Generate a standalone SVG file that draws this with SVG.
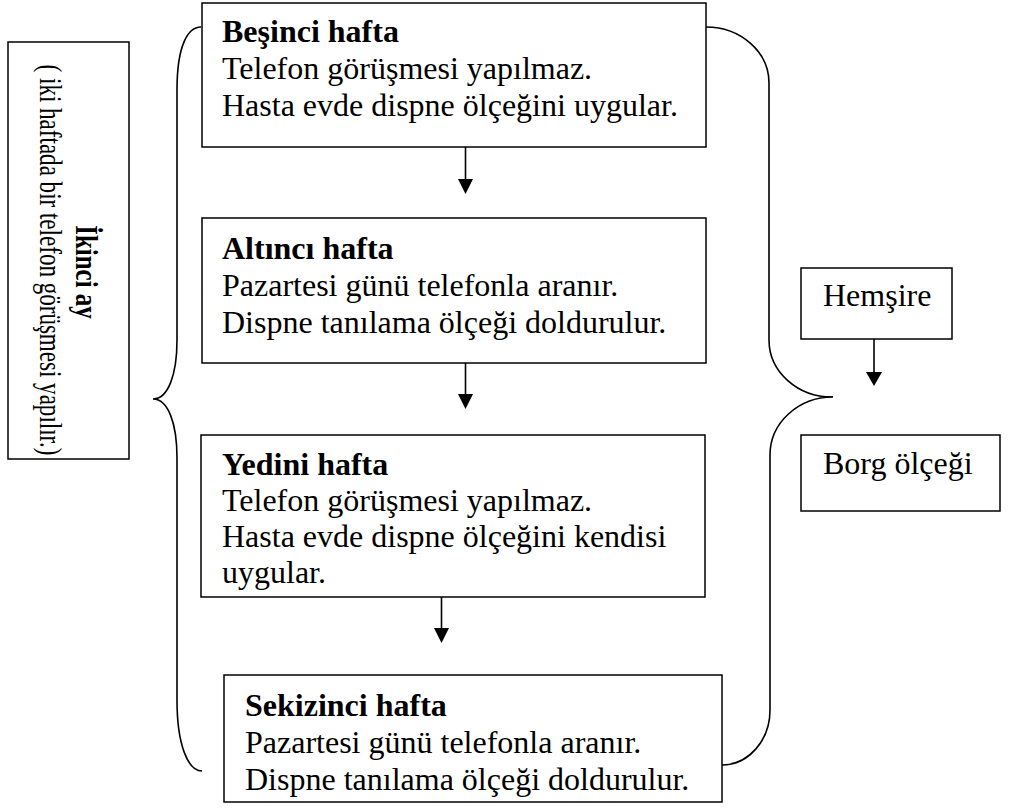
<svg xmlns="http://www.w3.org/2000/svg" width="1014" height="810" viewBox="0 0 1014 810">
  <style>
    .box { fill: #fff; stroke: #000; stroke-width: 1.5; }
    .txt { font-family: "Liberation Serif", "Times New Roman", serif; font-size: 32px; fill: #000; }
    .b { font-weight: bold; }
    .line { fill: none; stroke: #000; stroke-width: 1.6; }
    .head { fill: #000; stroke: none; }
  </style>

  <rect x="0" y="0" width="1014" height="810" fill="#fff"/>

  <!-- month label, rotated and condensed text -->
  <g id="ikinci-ay">
    <rect class="box" x="8" y="42" width="121" height="417"/>
    <text class="txt b" transform="translate(76,272) rotate(90) scale(0.78,1)" text-anchor="middle">İkinci ay</text>
    <text class="txt" transform="translate(40,260) rotate(90) scale(0.72,1)" text-anchor="middle">( iki haftada bir telefon görüşmesi yapılır.)</text>
  </g>

  <g id="connectors">
    <!-- left curly brace -->
    <path class="line" d="M201,27 C188,27 177,45 177,90 L177,340 C177,375 168,399 153,399 C168,399 177,423 177,458 L177,700 C177,745 188,771 202,771"/>
    <!-- right curly brace -->
    <path class="line" d="M706,27 A63,56 0 0 1 769,83 L769,340 A63,57 0 0 0 833,397 A63,58 0 0 0 770,455 L770,710 A48,55 0 0 1 722,765"/>
    <!-- week to week arrows -->
    <line class="line" x1="465.5" y1="147" x2="465.5" y2="181"/>
    <polygon class="head" points="458,179 473,179 465.5,194"/>
    <line class="line" x1="465.5" y1="363" x2="465.5" y2="396"/>
    <polygon class="head" points="458,394 473,394 465.5,409"/>
    <line class="line" x1="441.5" y1="597" x2="441.5" y2="630"/>
    <polygon class="head" points="434,628 449,628 441.5,643"/>
    <!-- nurse to scale -->
    <line class="line" x1="874" y1="339" x2="874" y2="374"/>
    <polygon class="head" points="866,372 882,372 874,386"/>
  </g>

  <g id="hafta-5">
    <rect class="box" x="202" y="3" width="504" height="144"/>
    <text class="txt b" x="222" y="42">Beşinci hafta</text>
    <text class="txt" x="222" y="79">Telefon görüşmesi yapılmaz.</text>
    <text class="txt" x="222" y="116">Hasta evde dispne ölçeğini uygular.</text>
  </g>

  <g id="hafta-6">
    <rect class="box" x="202" y="218" width="504" height="145"/>
    <text class="txt b" x="222" y="259">Altıncı hafta</text>
    <text class="txt" x="222" y="296">Pazartesi günü telefonla aranır.</text>
    <text class="txt" x="222" y="333">Dispne tanılama ölçeği doldurulur.</text>
  </g>

  <g id="hafta-7">
    <rect class="box" x="201" y="435" width="504" height="162"/>
    <text class="txt b" x="222" y="475">Yedini hafta</text>
    <text class="txt" x="222" y="511">Telefon görüşmesi yapılmaz.</text>
    <text class="txt" x="222" y="547">Hasta evde dispne ölçeğini kendisi</text>
    <text class="txt" x="222" y="583">uygular.</text>
  </g>

  <g id="hafta-8">
    <rect class="box" x="224" y="675" width="498" height="127"/>
    <text class="txt b" x="245" y="716">Sekizinci hafta</text>
    <text class="txt" x="245" y="753">Pazartesi günü telefonla aranır.</text>
    <text class="txt" x="245" y="790">Dispne tanılama ölçeği doldurulur.</text>
  </g>

  <g id="hemsire">
    <rect class="box" x="801" y="268" width="151" height="71"/>
    <text class="txt" x="823" y="306">Hemşire</text>
  </g>

  <g id="borg">
    <rect class="box" x="801" y="435" width="199" height="76"/>
    <text class="txt" x="823" y="474">Borg ölçeği</text>
  </g>
</svg>
